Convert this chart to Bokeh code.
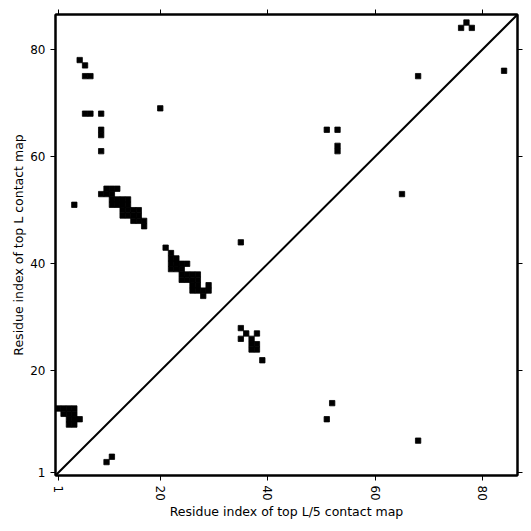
import math
from bokeh.plotting import figure
from bokeh.models import Range1d, FixedTicker, LinearAxis, CustomJSTickFormatter
from bokeh.embed import file_html
from bokeh.resources import INLINE

n_res = 86
tick_values = [1, 20, 40, 60, 80]

# top L contacts (residue i < residue j), drawn at (i, j)
topL_i = [5, 6, 6, 7, 6, 7, 9, 9, 9, 9,
          20,
          51, 53, 53, 53,
          68,
          76, 77, 78,
          35,
          4,
          10, 11, 12, 9, 10, 11, 11, 12, 13, 14, 11, 12, 13, 14, 13, 14, 15, 16, 13, 14, 15, 16, 15, 16, 17, 17,
          21, 22, 22, 23, 22, 23, 24, 25, 22, 23, 24, 24, 25, 26, 27, 24, 25, 26, 27, 26, 27, 29, 26, 27, 28, 29, 28,
          1, 2, 3, 4, 2, 3, 4, 3, 4, 5, 3, 4]
topL_j = [78, 77, 75, 75, 68, 68, 68, 65, 64, 61,
          69,
          65, 65, 62, 61,
          75,
          84, 85, 84,
          44,
          51,
          54, 54, 54, 53, 53, 53, 52, 52, 52, 52, 51, 51, 51, 51, 50, 50, 50, 50, 49, 49, 49, 49, 48, 48, 48, 47,
          43, 42, 41, 41, 40, 40, 40, 40, 39, 39, 39, 38, 38, 38, 38, 37, 37, 37, 37, 36, 36, 36, 35, 35, 35, 35, 34,
          13, 13, 13, 13, 12, 12, 12, 11, 11, 11, 10, 10]

# top L/5 contacts (residue i < residue j), drawn transposed at (j, i)
topL5_i = [3, 4, 11, 14, 7, 53, 76, 28, 27, 27, 26, 26, 25, 25, 24, 24, 22]
topL5_j = [10, 11, 51, 52, 68, 65, 84, 35, 36, 38, 35, 37, 37, 38, 37, 38, 39]

FONT = "DejaVu Sans"

p = figure(width=531, height=531, output_backend="svg", toolbar_location=None,
           x_range=Range1d(0.5, n_res + 0.5), y_range=Range1d(0.5, n_res + 0.5),
           min_border_left=55, min_border_right=14, min_border_top=14, min_border_bottom=56,
           background_fill_color="white", border_fill_color="white")
p.grid.visible = False
p.outline_line_color = "black"
p.outline_line_width = 2

p.rect(x=topL_i, y=topL_j, width=1, height=1, fill_color="black",
       line_color="black", line_width=0.8)
p.rect(x=topL5_j, y=topL5_i, width=1, height=1, fill_color="black",
       line_color="black", line_width=0.8)

diag = [0.5, n_res + 0.5]
p.line(diag, diag, line_color="black", line_width=2)

for ax in (p.xaxis[0], p.yaxis[0]):
    ax.ticker = FixedTicker(ticks=tick_values)
    ax.axis_line_width = 2
    ax.axis_line_color = "black"
    ax.major_tick_in = 0
    ax.major_tick_out = 5
    ax.major_tick_line_width = 1
    ax.minor_tick_line_color = None
    ax.major_label_text_font = FONT
    ax.major_label_text_font_size = "12px"
    ax.major_label_text_color = "black"
    ax.axis_label_text_font = FONT
    ax.axis_label_text_font_size = "12.5px"
    ax.axis_label_text_font_style = "normal"
    ax.axis_label_text_color = "black"
    ax.major_label_standoff = 5

p.xaxis.axis_label_standoff = 0
p.yaxis.axis_label_standoff = 1
p.xaxis.major_label_orientation = -math.pi / 2
p.xaxis.axis_label = "Residue index of top L/5 contact map"
p.yaxis.axis_label = "Residue index of top L contact map"

for loc in ("above", "right"):
    ax = LinearAxis(ticker=FixedTicker(ticks=tick_values),
                    formatter=CustomJSTickFormatter(code="return '';"),
                    major_label_standoff=0,
                    axis_line_width=2, axis_line_color="black",
                    major_tick_in=0, major_tick_out=5, major_tick_line_width=1,
                    minor_tick_line_color=None)
    p.add_layout(ax, loc)

open("out.html", "w").write(file_html(p, INLINE))
